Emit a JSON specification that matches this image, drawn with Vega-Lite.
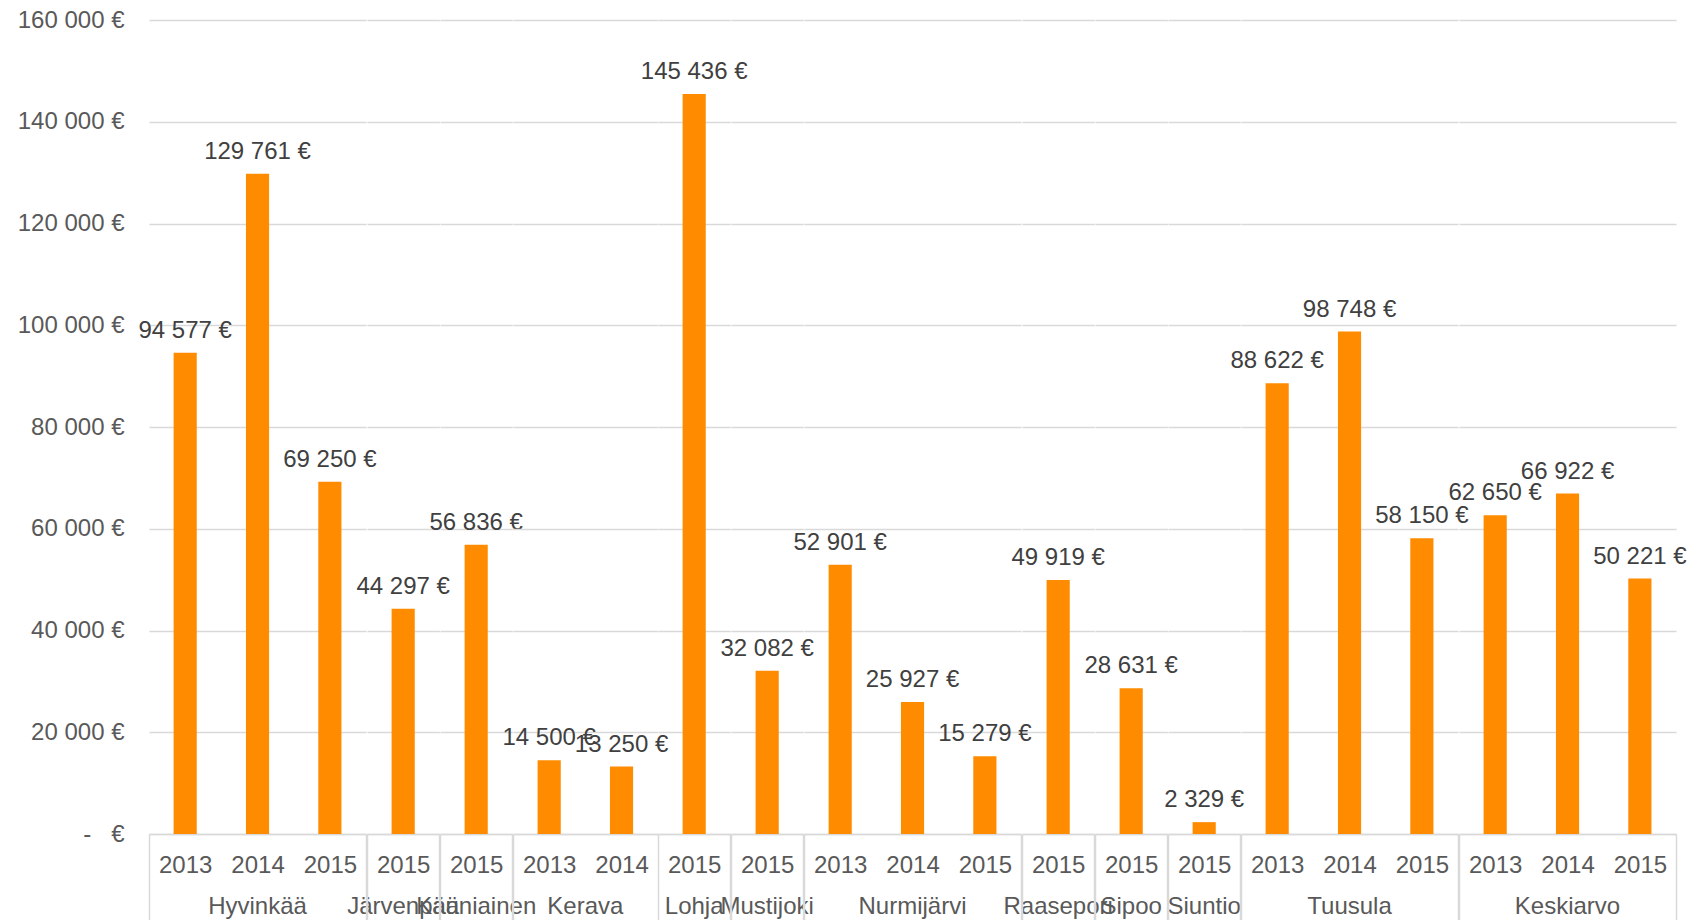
{
  "$schema": "https://vega.github.io/schema/vega-lite/v6.json",
  "padding": {"left": 17, "top": 8, "right": 5, "bottom": 0},
  "background": "white",
  "bounds": "flush",
  "data": {
    "values": [
      {"kunta": "Hyvinkää", "vuosi": "2013", "arvo": 94577},
      {"kunta": "Hyvinkää", "vuosi": "2014", "arvo": 129761},
      {"kunta": "Hyvinkää", "vuosi": "2015", "arvo": 69250},
      {"kunta": "Järvenpää", "vuosi": "2015", "arvo": 44297},
      {"kunta": "Kauniainen", "vuosi": "2015", "arvo": 56836},
      {"kunta": "Kerava", "vuosi": "2013", "arvo": 14500},
      {"kunta": "Kerava", "vuosi": "2014", "arvo": 13250},
      {"kunta": "Lohja", "vuosi": "2015", "arvo": 145436},
      {"kunta": "Mustijoki", "vuosi": "2015", "arvo": 32082},
      {"kunta": "Nurmijärvi", "vuosi": "2013", "arvo": 52901},
      {"kunta": "Nurmijärvi", "vuosi": "2014", "arvo": 25927},
      {"kunta": "Nurmijärvi", "vuosi": "2015", "arvo": 15279},
      {"kunta": "Raasepori", "vuosi": "2015", "arvo": 49919},
      {"kunta": "Sipoo", "vuosi": "2015", "arvo": 28631},
      {"kunta": "Siuntio", "vuosi": "2015", "arvo": 2329},
      {"kunta": "Tuusula", "vuosi": "2013", "arvo": 88622},
      {"kunta": "Tuusula", "vuosi": "2014", "arvo": 98748},
      {"kunta": "Tuusula", "vuosi": "2015", "arvo": 58150},
      {"kunta": "Keskiarvo", "vuosi": "2013", "arvo": 62650},
      {"kunta": "Keskiarvo", "vuosi": "2014", "arvo": 66922},
      {"kunta": "Keskiarvo", "vuosi": "2015", "arvo": 50221}
    ]
  },
  "facet": {
    "column": {
      "field": "kunta",
      "type": "nominal",
      "title": null,
      "sort": ["Hyvinkää", "Järvenpää", "Kauniainen", "Kerava", "Lohja", "Mustijoki", "Nurmijärvi", "Raasepori", "Sipoo", "Siuntio", "Tuusula", "Keskiarvo"],
      "header": {
        "labelOrient": "bottom",
        "labelFont": "Liberation Sans",
        "labelFontSize": 24,
        "labelColor": "#595959",
        "labelPadding": 61,
        "labelLimit": 0
      }
    }
  },
  "spacing": 0,
  "resolve": {"scale": {"x": "independent"}},
  "spec": {
    "width": {"step": 72.35},
    "height": 814,
    "encoding": {
      "y": {
        "field": "arvo",
        "type": "quantitative",
        "scale": {"domain": [0, 160000], "nice": false},
        "axis": {
          "title": null,
          "values": [0, 20000, 40000, 60000, 80000, 100000, 120000, 140000, 160000],
          "format": "$,.0f",
          "labelExpr": "datum.value == 0 ? '-\u00a0\u00a0\u00a0€' : datum.label",
          "labelFont": "Liberation Sans",
          "labelFontSize": 24,
          "labelColor": "#595959",
          "labelPadding": 25,
          "domain": false,
          "ticks": false,
          "gridColor": "#d9d9d9",
          "gridWidth": 1.5
        }
      }
    },
    "layer": [
      {
        "mark": {"type": "bar", "color": "#FF8B00", "width": {"band": 0.32}},
        "encoding": {
          "x": {
            "field": "vuosi",
            "type": "ordinal",
            "scale": {"paddingInner": 0, "paddingOuter": 0},
            "axis": {
              "title": null,
              "labelAngle": 0,
              "labelFont": "Liberation Sans",
              "labelFontSize": 24,
              "labelColor": "#595959",
              "labelPadding": -67,
              "labelOffset": 36.175,
              "domainColor": "#d9d9d9",
              "domainWidth": 1.5,
              "ticks": true,
              "tickOffset": -36.175,
              "tickSize": 86,
              "tickColor": "#d9d9d9",
              "tickWidth": 1.5,
              "tickOpacity": {"condition": {"test": "datum.index == 0", "value": 1}, "value": 0}
            }
          }
        }
      },
      {
        "mark": {"type": "text", "baseline": "alphabetic", "dy": -15, "font": "Liberation Sans", "fontSize": 24, "color": "#404040"},
        "encoding": {
          "x": {
            "field": "vuosi",
            "type": "ordinal",
            "axis": {
              "title": null,
              "orient": "bottom",
              "labels": false,
              "domain": false,
              "ticks": true,
              "tickOffset": 36.175,
              "tickSize": 86,
              "tickColor": "#d9d9d9",
              "tickWidth": 1.5,
              "tickOpacity": {"condition": {"test": "datum.value == '2015'", "value": 1}, "value": 0}
            }
          },
          "text": {"field": "arvo", "type": "quantitative", "format": "$,.0f"}
        }
      }
    ],
    "resolve": {"axis": {"x": "independent"}}
  },
  "config": {
    "view": {"stroke": null},
    "locale": {"number": {"decimal": ",", "thousands": "\u00a0", "grouping": [3], "currency": ["", "\u00a0€"]}}
  }
}
